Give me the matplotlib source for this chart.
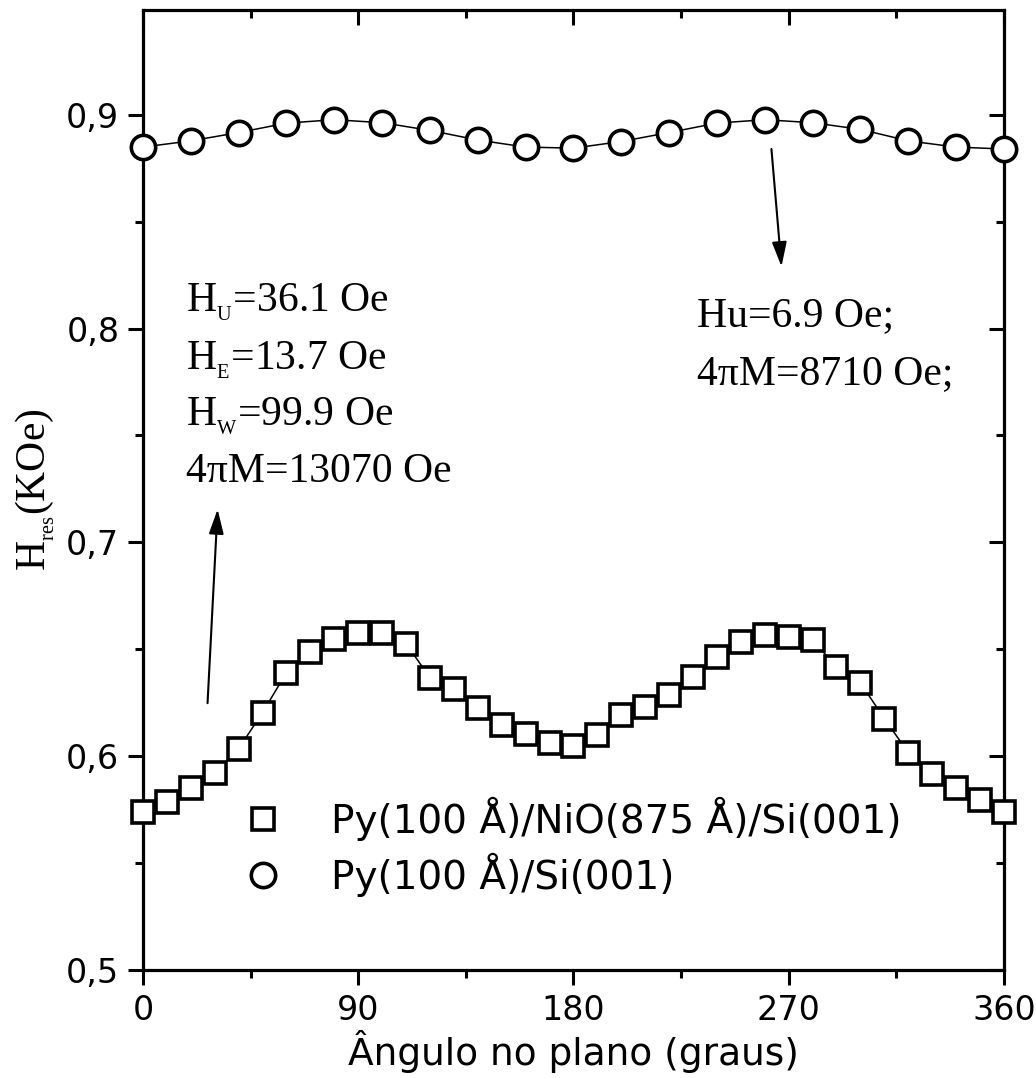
import matplotlib
matplotlib.use('Agg')
import matplotlib.pyplot as plt
from matplotlib.ticker import MultipleLocator, FixedLocator, FixedFormatter

plt.rcParams['font.family'] = 'DejaVu Sans'
plt.rcParams['mathtext.fontset'] = 'custom'
plt.rcParams['mathtext.rm'] = 'Liberation Serif'
plt.rcParams['mathtext.it'] = 'Liberation Serif:italic'

# FMR resonance field vs in-plane angle
ang_nio = list(range(0, 361, 10))
hres_nio = [0.5738, 0.5785, 0.5853, 0.5923, 0.6035, 0.6204, 0.6391, 0.6489, 0.6550, 0.6575,
            0.6575, 0.6527, 0.6367, 0.6315, 0.6224, 0.6146, 0.6106, 0.6063, 0.6049, 0.6099,
            0.6193, 0.6232, 0.6285, 0.6371, 0.6466, 0.6535, 0.6567, 0.6559, 0.6542, 0.6419,
            0.6343, 0.6176, 0.6017, 0.5917, 0.5850, 0.5795, 0.5738]

ang_si = list(range(0, 361, 20))
hres_si = [0.8849, 0.8878, 0.8917, 0.8961, 0.8977, 0.8963, 0.8927, 0.8882, 0.8849, 0.8844,
           0.8875, 0.8917, 0.8961, 0.8977, 0.8963, 0.8932, 0.8878, 0.8849, 0.8840]

ytick_vals = [0.5, 0.6, 0.7, 0.8, 0.9]
ytick_labels = ['0,5', '0,6', '0,7', '0,8', '0,9']

label_nio = 'Py(100 Å)/NiO(875 Å)/Si(001)'
label_si = 'Py(100 Å)/Si(001)'

fig = plt.figure(figsize=(10.36, 10.78), dpi=100)
ax = fig.add_axes([0.138, 0.1002, 0.831, 0.8905])

# fitted curves (thin) + markers
ax.plot(ang_nio, hres_nio, color='k', lw=1.1, zorder=2)
ax.plot(ang_si, hres_si, color='k', lw=1.1, zorder=2)
ax.plot(ang_nio, hres_nio, ls='none', marker='s', ms=16, mfc='white', mec='k', mew=2.6,
        label=label_nio, zorder=3, clip_on=False)
ax.plot(ang_si, hres_si, ls='none', marker='o', ms=17.5, mfc='white', mec='k', mew=2.6,
        label=label_si, zorder=3, clip_on=False)

ax.set_xlim(0, 360)
ax.set_ylim(0.5, 0.949)
ax.xaxis.set_major_locator(MultipleLocator(90))
ax.xaxis.set_minor_locator(MultipleLocator(45))
ax.yaxis.set_major_locator(FixedLocator(ytick_vals))
ax.yaxis.set_major_formatter(FixedFormatter(ytick_labels))
ax.yaxis.set_minor_locator(MultipleLocator(0.05))

for s in ax.spines.values():
    s.set_linewidth(2.3)
ax.tick_params(which='both', top=True, right=True, width=2.2)
ax.tick_params(which='major', length=11, labelsize=24, pad=6)
ax.tick_params(which='minor', length=6)
# bottom/left ticks point out, top/right point in
ax.tick_params(which='both', axis='x', direction='out')
ax.tick_params(which='both', axis='y', direction='out')
for t in ax.xaxis.get_major_ticks() + ax.xaxis.get_minor_ticks():
    t.tick2line.set_marker(3)
for t in ax.yaxis.get_major_ticks() + ax.yaxis.get_minor_ticks():
    t.tick2line.set_marker(0)

ax.set_xlabel('Ângulo no plano (graus)', fontsize=27)
ax.xaxis.set_label_coords(0.5, -0.062)
ax.set_ylabel(r'$\mathrm{H_{{}_{res}}(KOe)}$', fontsize=30)
ax.yaxis.set_label_coords(-0.1, 0.5)

serif = dict(family='Liberation Serif', fontsize=30, transform=ax.transAxes, va='baseline')
ax.text(0.05, 0.6857, r'H$_{{}_\mathrm{U}}$=36.1 Oe', **serif)
ax.text(0.05, 0.626, r'H$_{{}_\mathrm{E}}$=13.7 Oe', **serif)
ax.text(0.05, 0.567, r'H$_{{}_\mathrm{W}}$=99.9 Oe', **serif)
ax.text(0.05, 0.5086, '4πM=13070 Oe', **serif)
ax.text(0.643, 0.6708, 'Hu=6.9 Oe;', **serif)
ax.text(0.643, 0.6104, '4πM=8710 Oe;', **serif)

arrow = dict(arrowstyle='-|>,head_length=1.5,head_width=0.45', color='k', lw=1.5,
             shrinkA=0, shrinkB=0, mutation_scale=10)
ax.annotate('', xy=(31.2, 0.7155), xytext=(27.0, 0.6248), arrowprops=arrow)
ax.annotate('', xy=(267.0, 0.829), xytext=(262.8, 0.884), arrowprops=arrow)

ax.legend(loc='center left', bbox_to_anchor=(0.1173, 0.1286), frameon=False, fontsize=28,
          handlelength=1.0, handletextpad=1.25, borderpad=0, borderaxespad=0,
          labelspacing=0.3)

fig.savefig('out.png', dpi=100)
